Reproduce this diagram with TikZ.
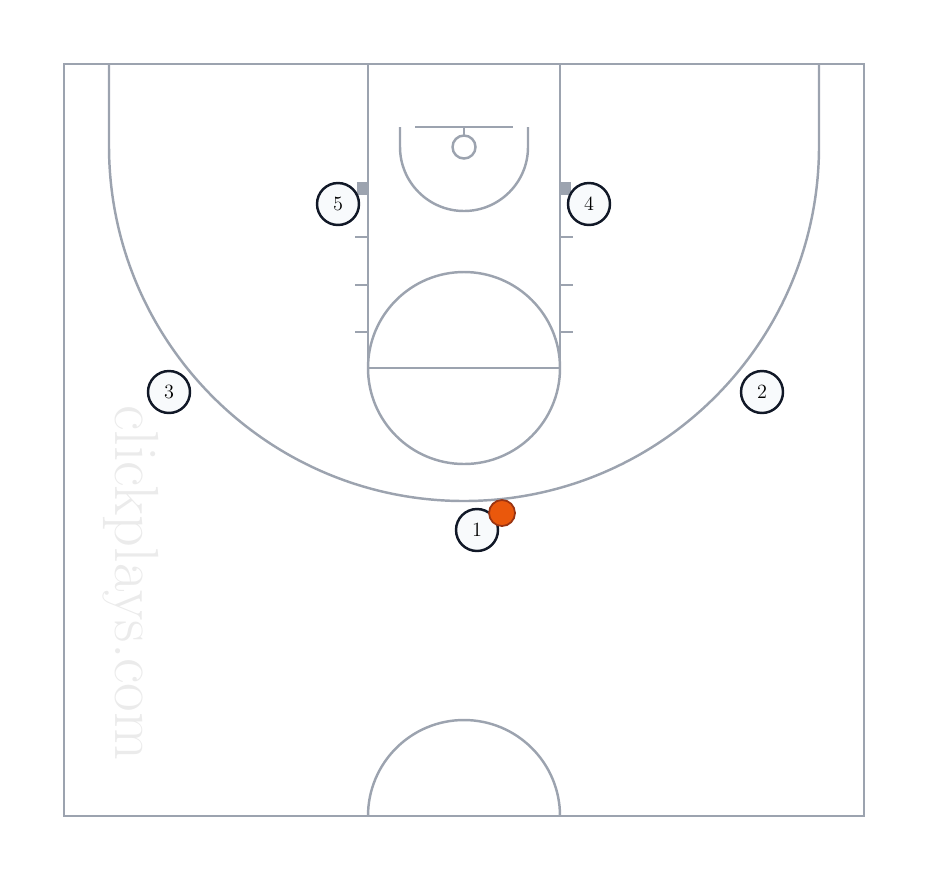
\documentclass[tikz,border=0pt]{standalone}
\usepackage{tikz}
\usetikzlibrary{positioning,calc}
\definecolor{courtline}{HTML}{9CA3AF}
\definecolor{playerdraw}{HTML}{111827}
\definecolor{playerfill}{HTML}{F8FAFC}
\definecolor{ballfill}{HTML}{EA580C}
\definecolor{balldraw}{HTML}{9A3412}
\definecolor{markcolor}{HTML}{EBEBEB}

\begin{document}
\begin{tikzpicture}[x=0.02cm, y=-0.02cm,
    court/.style={draw=courtline, line width=1.4pt},
    player/.style={circle, draw=playerdraw, fill=playerfill, line width=1.4pt, minimum size=0.84cm, inner sep=0pt, font=\fontsize{11.5}{12}\selectfont},
    ball/.style={circle, draw=balldraw, fill=ballfill, line width=1pt, minimum size=0.52cm, inner sep=0pt}]
    % Page size, same as the reference
    \useasboundingbox (0,0) rectangle (928,880);
    \def\lx{368}
    \def\rx{560}
    \def\ly{368}

    % Outer lines
    \draw[court] (64,64) rectangle (864,816);

    % Lane and free throw circle
    \draw[court] (\lx,64) -- (\lx,\ly) -- (\rx,\ly) -- (\rx,64);
    \draw[court] (464,\ly) circle (96);

    % Three point line
    \draw[court] (109,64) -- (109,146) arc[start angle=180, end angle=0, radius=355] -- (819,64);

    % Restricted area, backboard, rim
    \draw[court] (400,127) -- (400,147) arc[start angle=180, end angle=0, radius=64] -- (528,127);
    \draw[court] (415,127) -- (513,127);
    \draw[court] (464,127) -- (464,136);
    \draw[court] (464,147) circle (11.5);

    % Blocks and hash marks
    \fill[courtline] (357,182) rectangle (\lx,195);
    \fill[courtline] (\rx,182) rectangle (571,195);
    \foreach \hy in {237,285,332} {
      \draw[court] (355,\hy) -- (\lx,\hy);
      \draw[court] (\rx,\hy) -- (573,\hy);
    }

    % Center circle
    \draw[court] (368,816) arc[start angle=180, end angle=360, radius=96];

    % Watermark
    \node[text=markcolor, rotate=-90, font=\fontsize{35.5}{36}\selectfont] (mark) at (131,583) {clickplays.com};

    % Players
    \node[player] (p5) at (338,204) {5};
    \node[player] (p4) at (589,204) {4};
    \node[player] (p3) at (169,392) {3};
    \node[player] (p2) at (762,392) {2};
    \node[player] (p1) at (477,530) {1};

    % Ball
    \node[ball] (bl) at (502,513) {};
\end{tikzpicture}
\end{document}
